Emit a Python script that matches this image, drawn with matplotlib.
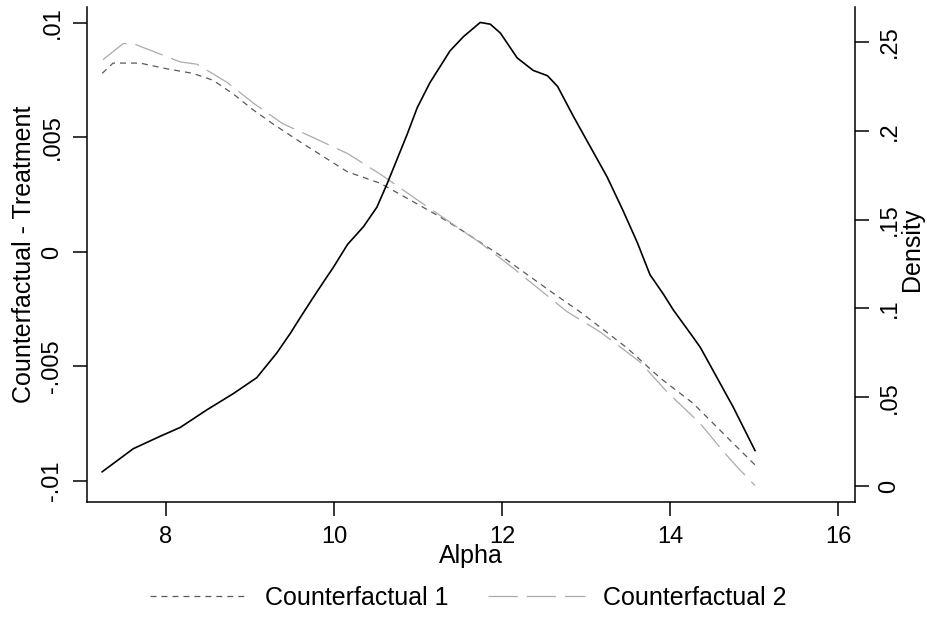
import matplotlib
matplotlib.use("Agg")
import matplotlib.pyplot as plt

plt.rcParams['font.family'] = ['Liberation Sans', 'DejaVu Sans']
plt.rcParams['lines.scale_dashes'] = False

# Data ########################################################################
# Kernel density of alpha (right axis)
dens_x = [7.24, 7.61, 7.93, 8.17, 8.49, 8.80, 9.08, 9.32, 9.48, 9.60, 9.75,
          9.89, 9.99, 10.16, 10.35, 10.51, 10.63, 10.75, 10.87, 10.99, 11.14,
          11.38, 11.54, 11.74, 11.86, 11.98, 12.18, 12.37, 12.54, 12.66, 12.85,
          13.05, 13.25, 13.44, 13.61, 13.76, 13.92, 14.04, 14.27, 14.36, 14.75,
          15.01]
dens_y = [0.008, 0.021, 0.028, 0.033, 0.043, 0.052, 0.061, 0.075, 0.086,
          0.095, 0.106, 0.116, 0.123, 0.136, 0.146, 0.157, 0.170, 0.184,
          0.198, 0.213, 0.227, 0.245, 0.253, 0.261, 0.260, 0.255, 0.241,
          0.234, 0.231, 0.225, 0.208, 0.191, 0.174, 0.155, 0.137, 0.119,
          0.108, 0.099, 0.084, 0.078, 0.0445, 0.020]

# Counterfactual 1 - Treatment (left axis)
cf1_x = [7.24, 7.37, 7.69, 8.01, 8.32, 8.56, 8.80, 9.04, 9.27, 9.60, 10.16,
         10.55, 10.94, 11.23, 11.54, 12.00, 12.57, 12.96, 13.49, 13.88,
         14.27, 14.68, 15.01]
cf1_y = [0.0078, 0.00825, 0.00825, 0.0080, 0.0078, 0.0075, 0.0069, 0.0062,
         0.0056, 0.0048, 0.0035, 0.0030, 0.0022, 0.0016, 0.0009, -0.0002,
         -0.0017, -0.0027, -0.0042, -0.0055, -0.0066, -0.0081, -0.0093]

# Counterfactual 2 - Treatment (left axis)
cf2_x = [7.25, 7.49, 7.61, 7.89, 8.17, 8.37, 8.73, 9.04, 9.39, 9.75, 10.16,
         10.55, 11.02, 11.42, 11.74, 12.13, 12.77, 13.17, 13.64, 13.96,
         14.36, 14.63, 14.80, 15.01]
cf2_y = [0.0084, 0.0091, 0.0091, 0.0087, 0.0083, 0.0082, 0.0074, 0.0065,
         0.0056, 0.0050, 0.0043, 0.0034, 0.0022, 0.0012, 0.0004, -0.0007,
         -0.0026, -0.0035, -0.0048, -0.0061, -0.0075, -0.0087, -0.0094,
         -0.0102]

x_ticks = [8, 10, 12, 14, 16]
left_ticks = [-0.01, -0.005, 0, 0.005, 0.01]
left_labels = ['-.01', '-.005', '0', '.005', '.01']
right_ticks = [0, 0.05, 0.1, 0.15, 0.2, 0.25]
right_labels = ['0', '.05', '.1', '.15', '.2', '.25']

# Plot ########################################################################
fig, ax = plt.subplots(figsize=(9.27, 6.18), dpi=100)
fig.subplots_adjust(left=0.0939, right=0.9223, bottom=0.1877, top=0.9887)
ax2 = ax.twinx()

l1, = ax.plot(cf1_x, cf1_y, color='#5a5a5a', linewidth=0.9, dashes=(4.3, 3.6),
              label='Counterfactual 1')
l2, = ax.plot(cf2_x, cf2_y, color='#ababab', linewidth=0.9, dashes=(21, 6.5),
              label='Counterfactual 2')
ax2.plot(dens_x, dens_y, color='black', linewidth=1.2)

ax.set_xlim(7.06, 16.2)
ax.set_ylim(-0.01092, 0.0107)
ax2.set_ylim(-0.009, 0.2697)

ax.set_xticks(x_ticks)
ax.set_yticks(left_ticks)
ax.set_yticklabels(left_labels, rotation=90, va='center')
ax2.set_yticks(right_ticks)
ax2.set_yticklabels(right_labels, rotation=90, va='center')

for a in (ax, ax2):
    a.tick_params(labelsize=17, length=10, width=1.1, direction='out', pad=7)
    a.spines['top'].set_visible(False)
    for s in a.spines.values():
        s.set_linewidth(1.1)
ax.spines['right'].set_visible(False)
ax2.spines['left'].set_visible(False)
ax2.spines['bottom'].set_visible(False)

# Stata puts the x title right under the tick labels
ax.set_xlabel('Alpha', fontsize=18, labelpad=-2.5)
ax.set_ylabel('Counterfactual - Treatment', fontsize=18)
ax.yaxis.set_label_coords(-0.067, 0.5)
ax2.set_ylabel('Density', fontsize=18)
ax2.yaxis.set_label_coords(1.0586, 0.51)

fig.legend(handles=[l1, l2], loc='center', bbox_to_anchor=(0.505, 0.032),
           ncol=2, frameon=False, fontsize=18, handlelength=3.9,
           handletextpad=0.72, columnspacing=1.56)

plt.savefig('out.png', dpi=100)
